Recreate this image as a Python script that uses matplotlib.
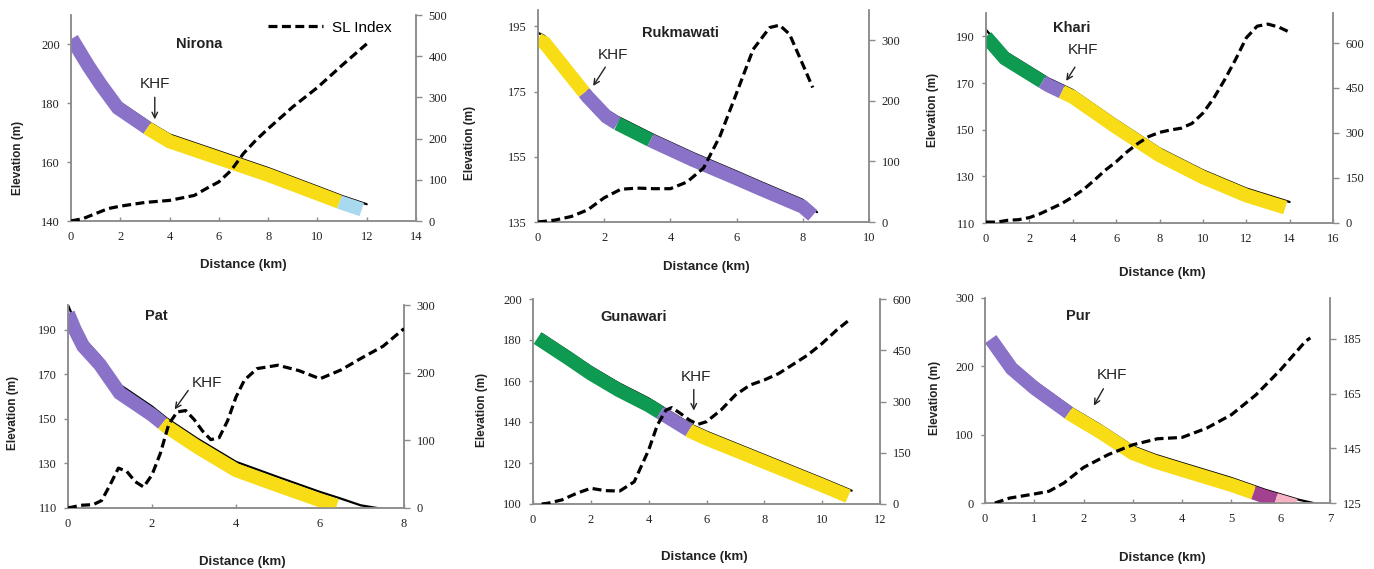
import matplotlib
matplotlib.use('Agg')
import matplotlib.pyplot as plt
import matplotlib.transforms as mtransforms
from matplotlib.lines import Line2D
import numpy as np

# colours of the profile segments
PURPLE = '#8a72c9'
YELLOW = '#f7dc16'
GREEN = '#0f9a52'
LBLUE = '#a8d9ef'
MAGENTA = '#a2418f'
PINK = '#f6b3c3'

# ---- Nirona ----
nir_x = [0.2, 0.7, 1.2, 1.9, 3.2, 4, 6, 8, 10, 11, 12]
nir_elev = [202, 195.1, 188.8, 180.8, 173.4, 169.4, 163.7, 158, 151.7, 148.5, 145.7]
nir_seg = [(0.0, 3.1, PURPLE), (3.1, 10.9, YELLOW), (10.9, 11.8, LBLUE)]
nir_slx = [0, 0.5, 1, 1.5, 2, 3, 4, 5, 5.5, 6, 6.5, 7, 7.5, 8, 9, 10, 11, 12]
nir_sl = [0, 6, 18, 30, 36, 45, 50, 62, 79, 95, 123, 164, 196, 224, 277, 324, 378, 430]

# ---- Rukmawati ----
ruk_x = [0, 0.2, 1.5, 2.07, 2.4, 2.5, 3.5, 4.7, 6, 6.7, 8, 8.43]
ruk_elev = [193, 192, 175.5, 169.4, 167.3, 166.8, 161.7, 156.1, 150.5, 147.4, 141.8, 138]
ruk_seg = [(0.0, 1.4, YELLOW), (1.4, 2.4, PURPLE), (2.4, 3.4, GREEN), (3.4, 8.3, PURPLE)]
ruk_slx = [0, 0.5, 1, 1.5, 2, 2.5, 3, 3.5, 4, 4.5, 5, 5.5, 6, 6.5, 7, 7.3, 7.6, 8, 8.3]
ruk_sl = [0, 3, 9, 20, 40, 54, 56, 55, 55, 66, 89, 142, 213, 285, 321, 325, 310, 260, 222]

# ---- Khari ----
kha_x = [0, 0.87, 2, 2.87, 4, 6, 8, 10, 12, 14]
kha_elev = [192.8, 183.5, 177, 172, 167, 154.1, 142, 132.6, 124.8, 119]
kha_seg = [(0.0, 2.6, GREEN), (2.6, 3.5, PURPLE), (3.5, 13.8, YELLOW)]
kha_slx = [0, 0.5, 1, 1.5, 2, 2.5, 3, 3.5, 4, 4.5, 5, 5.5, 6, 6.5, 7, 7.5, 8, 8.5, 9,
           9.5, 10, 10.5, 11, 11.5, 12, 12.5, 13, 13.5, 14]
kha_sl = [3, 3, 9, 11, 18, 31, 48, 65, 87, 112, 143, 176, 204, 237, 265, 288, 302, 310, 316,
          332, 366, 416, 477, 544, 617, 656, 663, 653, 636]

# ---- Pat ----
pat_x = [0, 0.16, 0.36, 0.76, 1.23, 2, 2.35, 3.07, 4, 4.98, 6, 6.5, 6.97, 7.55]
pat_elev = [201, 193.8, 186.3, 178, 165.3, 155.5, 150.2, 141.2, 130.7, 124, 117.2, 114.2, 111.2, 109.4]
pat_seg = [(0.0, 2.25, PURPLE), (2.25, 6.4, YELLOW)]
pat_slx = [0, 0.3, 0.6, 0.8, 1, 1.2, 1.4, 1.6, 1.8, 2, 2.2, 2.4, 2.6, 2.8, 3, 3.2, 3.4, 3.6,
           3.8, 4, 4.2, 4.5, 5, 5.5, 6, 6.5, 7, 7.5, 8]
pat_sl = [0, 4, 5, 11, 34, 59, 54, 39, 31, 49, 81, 124, 142, 144, 131, 114, 101, 104,
          129, 164, 189, 206, 211, 203, 191, 204, 222, 239, 265]

# ---- Gunawari ----
gun_x = [0.3, 1.24, 2, 2.97, 4, 4.46, 5.5, 6, 8, 10, 11.02]
gun_elev = [183, 174.3, 167, 158.9, 151.5, 147.5, 138.5, 135.3, 123.9, 112.5, 106.5]
gun_seg = [(0.0, 4.4, GREEN), (4.4, 5.4, PURPLE), (5.4, 10.9, YELLOW)]
gun_slx = [0.3, 0.5, 1, 1.5, 2, 2.5, 3, 3.5, 4, 4.3, 4.6, 4.8, 5.1, 5.4, 5.7, 6, 6.5, 7,
           7.5, 8, 8.5, 9, 9.5, 10, 10.5, 11]
gun_sl = [0, 2, 12, 31, 46, 39, 38, 65, 158, 231, 275, 282, 265, 246, 233, 241, 275, 319,
          348, 363, 382, 409, 436, 470, 509, 543]

# ---- Pur ----
pur_x = [0.2, 0.54, 1.01, 1.76, 2.33, 3, 3.45, 4, 5, 5.68, 6.36, 6.66]
pur_elev = [241.5, 207, 178, 139, 114.6, 83, 70.7, 58.5, 36.6, 19.5, 4.9, 0]
pur_seg = [(0.0, 1.7, PURPLE), (1.7, 5.45, YELLOW), (5.45, 5.9, MAGENTA), (5.9, 6.3, PINK)]
pur_slx = [0.2, 0.5, 1, 1.3, 1.6, 2, 2.5, 3, 3.5, 4, 4.5, 5, 5.5, 6, 6.5, 6.6]
pur_sl = [125, 126.8, 128.3, 129.3, 132.3, 138, 142.7, 146.3, 148.5, 149, 152.4, 157.3,
          164.6, 173.8, 184.1, 185.4]

W, H = 1374, 569
fig = plt.figure(figsize=(W / 100, H / 100), dpi=100)
fig.patch.set_facecolor('white')

TICKFONT = 'Liberation Serif'
SANS = 'Liberation Sans'
SPINE = '#8c8c8c'
TXT = '#222222'


def make_panel(box, name, title_xy, px, elev, segs, slx, sl, khf_text, khf_from, khf_to,
               xlim, xticks, ylim, yticks, ylim2, yticks2, ylab_xy, xlab_xy, band_off=5):
    l, r, t, b = box
    ax = fig.add_axes([l / W, 1 - b / H, (r - l) / W, (b - t) / H])
    ax2 = ax.twinx()

    # black river profile
    ax.plot(px, elev, color='black', lw=1.6, zorder=2, solid_capstyle='round')
    # coloured segments drawn just below the profile
    shift = mtransforms.ScaledTranslation(0, -band_off / 72, fig.dpi_scale_trans)
    px_a = np.array(px)
    ext = 0.012 * xlim[1]
    for x0, x1, c in segs:
        x0 = max(x0, px_a[0] - ext)
        inner = px_a[(px_a > x0) & (px_a < x1)]
        xs = np.concatenate([[x0], inner, [x1]])
        ys = np.interp(xs, px, elev)
        if x0 < px_a[0]:
            ys[0] = elev[0] + (elev[0] - elev[1]) / (px[1] - px[0]) * (px[0] - x0)
        ax.plot(xs, ys, color=c, lw=10, solid_capstyle='butt', solid_joinstyle='miter',
                zorder=3, transform=ax.transData + shift)

    # SL index on the right axis
    ax2.plot(slx, sl, color='black', lw=2.3, ls=(0, (2.8, 1.4)), zorder=4)

    ax.set_xlim(*xlim)
    ax.set_ylim(*ylim)
    ax2.set_ylim(*ylim2)
    ax.set_xticks(xticks)
    ax.set_yticks(yticks)
    ax2.set_yticks(yticks2)

    for a in (ax, ax2):
        a.spines['top'].set_visible(False)
        for s in ('left', 'right', 'bottom'):
            a.spines[s].set_color(SPINE)
            a.spines[s].set_linewidth(1.1)
        a.tick_params(colors=SPINE, labelcolor=TXT, labelsize=9, width=1)
        for lab in a.get_xticklabels() + a.get_yticklabels():
            lab.set_fontfamily(TICKFONT)
    ax.tick_params(axis='x', direction='in', length=3, pad=7)
    ax.tick_params(axis='y', direction='out', length=3, pad=5)
    ax2.tick_params(axis='y', direction='out', length=4, pad=5)

    ax.text(title_xy[0], title_xy[1], name, ha='center', va='center', fontsize=10.5,
            fontweight='bold', family=SANS, color=TXT)
    ax.annotate('', xy=khf_to, xytext=khf_from,
                arrowprops=dict(arrowstyle='->', color=TXT, lw=1.0))
    ax.text(khf_text[0], khf_text[1], 'KHF', ha='center', va='center', fontsize=11,
            family=SANS, color=TXT)

    ax.set_ylabel('Elevation (m)', fontsize=8.5, fontweight='bold', family=SANS, color=TXT)
    ax.set_xlabel('Distance (km)', fontsize=9.5, fontweight='bold', family=SANS, color=TXT)
    ax.yaxis.set_label_coords(*ylab_xy)
    ax.xaxis.set_label_coords(*xlab_xy)
    ax.yaxis.label.set_va('center')
    ax.xaxis.label.set_va('center')
    return ax, ax2


ax1, ax1b = make_panel((71, 416, 15, 221), 'Nirona', (5.2, 200), nir_x, nir_elev, nir_seg,
                       nir_slx, nir_sl, (3.4, 186.5), (3.4, 183), (3.4, 173.6),
                       (0, 14), np.arange(0, 15, 2), (140, 210), [140, 160, 180, 200],
                       (0, 500), np.arange(0, 501, 100), (-0.154, 0.306), (0.5, -0.214))
sl_handle = Line2D([], [], color='black', lw=2.3, ls=(0, (2.8, 1.4)))
ax1b.legend([sl_handle], ['SL Index'], loc='upper right', bbox_to_anchor=(0.97, 1.04),
            frameon=False, prop={'family': SANS, 'size': 11}, handlelength=3.6,
            handletextpad=0.6)

make_panel((538, 869, 10, 222), 'Rukmawati', (4.3, 192.9), ruk_x, ruk_elev, ruk_seg,
           ruk_slx, ruk_sl, (2.25, 186.2), (2.08, 183.2), (1.62, 176),
           (0, 10), np.arange(0, 11, 2), (135, 200), [135, 155, 175, 195],
           (0, 350), np.arange(0, 301, 100), (-0.205, 0.373), (0.51, -0.212))

make_panel((986, 1333, 13, 223), 'Khari', (3.94, 193.5), kha_x, kha_elev, kha_seg,
           kha_slx, kha_sl, (4.48, 184.2), (4.17, 177.8), (3.63, 169.9),
           (0, 16), np.arange(0, 17, 2), (110, 200), [110, 130, 150, 170, 190],
           (0, 700), np.arange(0, 601, 150), (-0.153, 0.538), (0.507, -0.238))

make_panel((68, 404, 305, 508), 'Pat', (2.1, 196), pat_x, pat_elev, pat_seg,
           pat_slx, pat_sl, (3.3, 166), (2.9, 163.7), (2.5, 153.2),
           (0, 8), np.arange(0, 9, 2), (110, 201), [110, 130, 150, 170, 190],
           (0, 300), np.arange(0, 301, 100), (-0.164, 0.468), (0.519, -0.266), band_off=6)

make_panel((533, 880, 299, 504), 'Gunawari', (3.49, 191), gun_x, gun_elev, gun_seg,
           gun_slx, gun_sl, (5.64, 162.1), (5.56, 157.2), (5.56, 144.2),
           (0, 12), np.arange(0, 13, 2), (100, 200), np.arange(100, 201, 20),
           (0, 600), np.arange(0, 601, 150), (-0.147, 0.459), (0.493, -0.259))

make_panel((985, 1330, 298, 503), 'Pur', (1.89, 273), pur_x, pur_elev, pur_seg,
           pur_slx, pur_sl, (2.57, 187.8), (2.43, 170.7), (2.18, 139),
           (0, 7), np.arange(0, 8, 1), (0, 300), [0, 100, 200, 300],
           (125, 200), [125, 145, 165, 185], (-0.145, 0.512), (0.513, -0.268))

fig.savefig('out.png', dpi=100, facecolor='white')
